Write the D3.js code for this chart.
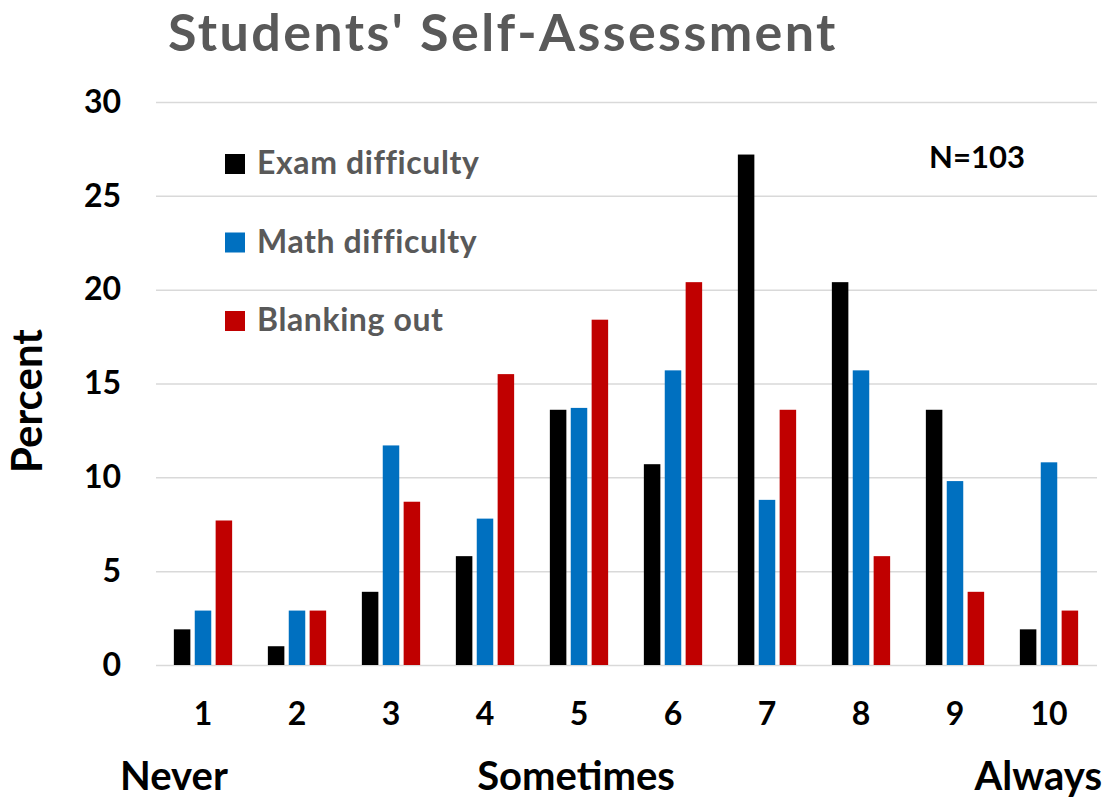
<!DOCTYPE html>
<html>
<head>
<meta charset="utf-8">
<script src="https://cdn.jsdelivr.net/npm/d3@7"></script>
<style>
  body { margin: 0; background: #ffffff; }
  text { font-family: Lato, "Open Sans", sans-serif; font-weight: bold; }
</style>
</head>
<body>
<div id="chart"></div>
<script>
// Categories (rating scale)
var categories = ["1", "2", "3", "4", "5", "6", "7", "8", "9", "10"];

// Series Names
var seriesNames = ["Exam difficulty", "Math difficulty", "Blanking out"];

// Series Values (percent)
var examDifficulty = [1.9, 1.0, 3.9, 5.8, 13.6, 10.7, 27.2, 20.4, 13.6, 1.9];
var mathDifficulty = [2.9, 2.9, 11.7, 7.8, 13.7, 15.7, 8.8, 15.7, 9.8, 10.8];
var blankingOut = [7.7, 2.9, 8.7, 15.5, 18.4, 20.4, 13.6, 5.8, 3.9, 2.9];

// Y Axis Tick Values
var yTicks = [0, 5, 10, 15, 20, 25, 30];

// Scale Anchor Labels
var anchorLabels = ["Never", "Sometimes", "Always"];

// Series Colors
var colors = ["#000000", "#0070C0", "#C00000"];

// Plot Size
var width = 1107;
var height = 798;

// Plot Area Bounds
var plotLeft = 156;
var plotRight = 1096;
var plotTop = 102;
var plotBottom = 665;

// Build Table For Grouped Bars
var series = [examDifficulty, mathDifficulty, blankingOut];
var table = categories.map(function(c, i) {
  return {
    cat: c,
    values: series.map(function(s, j) { return {key: j, value: s[i]}; })
  };
});

// SVG Container Variable
var svg = d3
  .select("#chart")
  .append("svg")
  .attr("width", width)
  .attr("height", height);

// X Axis Range
var xScale = d3
  .scaleBand()
  .domain(categories)
  .range([plotLeft, plotRight])
  .paddingInner(0.38)
  .paddingOuter(0.19);

// Bar Position Inside Each Group
var xSub = d3
  .scaleBand()
  .domain([0, 1, 2])
  .range([0, xScale.bandwidth()])
  .paddingInner(0.21);

// Y Axis Range
var yScale = d3
  .scaleLinear()
  .domain([0, 30])
  .range([plotBottom, plotTop]);

// Gridlines & Y Labels
var yAxis = d3.axisLeft(yScale)
  .tickValues(yTicks)
  .tickSize(-(plotRight + 1 - plotLeft))
  .tickPadding(35)
  .tickFormat(d3.format("d"));

var gy = svg
  .append("g")
  .attr("transform", "translate(" + plotLeft + ",0)")
  .call(yAxis);

gy.select(".domain").remove();
gy.selectAll(".tick line")
  .attr("stroke", "#d9d9d9")
  .attr("stroke-width", 1.5);
gy.selectAll(".tick text")
  .attr("fill", "#000000")
  .attr("font-size", "32px")
  .attr("font-family", "Lato, sans-serif");

// X Axis Labels
var xAxis = d3.axisBottom(xScale)
  .tickSize(0)
  .tickPadding(37);

var gx = svg
  .append("g")
  .attr("transform", "translate(0," + plotBottom + ")")
  .call(xAxis);

gx.select(".domain").remove();
gx.selectAll(".tick text")
  .attr("fill", "#000000")
  .attr("font-size", "32px")
  .attr("font-family", "Lato, sans-serif");

// Bars
var groups = svg
  .selectAll("g.group")
  .data(table)
  .enter()
  .append("g")
  .attr("class", "group")
  .attr("transform", function(d) { return "translate(" + xScale(d.cat) + ",0)"; });

groups
  .selectAll("rect")
  .data(function(d) { return d.values; })
  .enter()
  .append("rect")
  .attr("x", function(d) { return xSub(d.key); })
  .attr("y", function(d) { return yScale(d.value); })
  .attr("width", xSub.bandwidth())
  .attr("height", function(d) { return plotBottom - yScale(d.value); })
  .attr("fill", function(d) { return colors[d.key]; });

// Title
svg
  .append("text")
  .attr("x", 168)
  .attr("y", 51)
  .text("Students' Self-Assessment")
  .attr("font-size", "52px")
  .attr("letter-spacing", "2.4px")
  .attr("fill", "#595959");

// Legend
var legend = svg
  .selectAll("g.legend")
  .data(seriesNames)
  .enter()
  .append("g")
  .attr("class", "legend")
  .attr("transform", function(d, i) { return "translate(225," + (154 + i * 78.5) + ")"; });

legend
  .append("rect")
  .attr("width", 20)
  .attr("height", 20)
  .attr("fill", function(d, i) { return colors[i]; });

legend
  .append("text")
  .attr("x", 32)
  .attr("y", 20)
  .text(function(d) { return d; })
  .attr("font-size", "32px")
  .attr("letter-spacing", "0.6px")
  .attr("fill", "#595959");

// Sample Size
svg
  .append("text")
  .attr("x", 977)
  .attr("y", 168)
  .attr("text-anchor", "middle")
  .text("N=103")
  .attr("font-size", "31px")
  .attr("fill", "#000000");

// Y Axis Label
svg
  .append("text")
  .attr("transform", "translate(42,401) rotate(-90)")
  .attr("text-anchor", "middle")
  .text("Percent")
  .attr("font-size", "42px")
  .attr("fill", "#000000");

// Scale Anchor Labels
var anchorX = [120, 576, 1102];
var anchorAlign = ["start", "middle", "end"];
svg
  .selectAll("text.anchor")
  .data(anchorLabels)
  .enter()
  .append("text")
  .attr("class", "anchor")
  .attr("x", function(d, i) { return anchorX[i]; })
  .attr("y", 790)
  .attr("text-anchor", function(d, i) { return anchorAlign[i]; })
  .text(function(d) { return d; })
  .attr("font-size", "40px")
  .attr("fill", "#000000");
</script>
</body>
</html>
